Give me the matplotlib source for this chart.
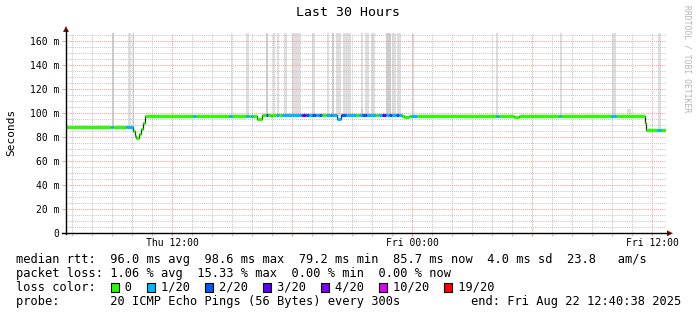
import matplotlib
matplotlib.use("Agg")
import matplotlib.pyplot as plt
from matplotlib.patches import Rectangle, Polygon
from matplotlib.lines import Line2D
from datetime import datetime, timedelta

plt.rcParams['font.family'] = 'DejaVu Sans Mono'

# graph covers 30 hours ending Fri Aug 22 12:40:38 2025
end = datetime(2025, 8, 22, 12, 40, 38)
span_hours = 30
start = end - timedelta(hours=span_hours)

# median rtt, piecewise: start hour of each piece, value in ms, lost pings of 20
seg_start = [0.00, 2.24, 2.37, 3.02, 3.37, 3.43, 3.50, 3.63, 3.73, 3.87,
             3.97, 6.37, 6.52, 8.15, 8.28, 8.98, 9.15, 9.23, 9.35, 9.57,
             9.78, 9.98, 10.12, 10.23, 10.32, 10.48, 10.65, 10.78, 11.73, 11.82,
             11.98, 12.15, 12.32, 12.48, 12.65, 12.82, 12.98, 13.23, 13.32, 13.57,
             13.73, 13.98, 14.48, 14.65, 14.82, 15.07, 15.48, 15.65, 15.82, 15.98,
             16.15, 16.32, 16.48, 16.65, 16.82, 16.88, 17.15, 17.23, 17.53, 21.48,
             21.65, 22.38, 22.63, 24.63, 24.77, 27.23, 27.52, 28.95, 29.02, 29.57,
             29.73]
seg_median = [88.3, 88.3, 88.3, 88.3, 85.5, 81.5, 79.5, 83.0, 87.0, 92.0,
              97.8, 97.8, 97.8, 97.8, 97.8, 97.8, 97.8, 97.8, 97.8, 95.5,
              98.7, 98.7, 98.7, 97.8, 98.7, 98.7, 98.7, 98.7, 98.7, 98.7,
              98.7, 98.7, 98.7, 98.7, 98.7, 98.7, 98.7, 98.7, 98.7, 95.5,
              98.7, 98.7, 98.7, 98.7, 98.7, 98.7, 98.7, 98.7, 98.7, 98.7,
              98.7, 98.7, 98.7, 98.7, 98.0, 97.0, 97.8, 97.8, 97.8, 97.8,
              97.8, 97.2, 97.8, 97.8, 97.8, 97.8, 97.8, 91.7, 86.0, 86.0,
              86.0]
seg_loss = [0, 1, 0, 1, 0, 0, 0, 0, 0, 0,
            0, 1, 0, 1, 0, 1, 0, 1, 0, 0,
            0, 2, 0, 0, 0, 1, 0, 1, 2, 3,
            2, 1, 2, 1, 2, 0, 1, 2, 1, 1,
            2, 1, 0, 1, 2, 1, 0, 1, 3, 1,
            2, 1, 2, 1, 0, 0, 0, 1, 0, 1,
            0, 0, 0, 1, 0, 1, 0, 0, 0, 1,
            0]

# smoke (ping spread) columns
smoke_t0 = [2.31, 3.12, 3.34, 8.24, 9.02, 10.02, 10.37, 10.54, 10.89, 11.31,
            12.32, 13.04, 13.29, 13.52, 13.87, 14.76, 14.76, 14.96, 15.26, 15.99,
            16.32, 16.54, 17.30, 21.49, 24.70, 27.29, 28.04, 29.60]
smoke_t1 = [2.40, 3.27, 3.40, 8.32, 9.15, 10.12, 10.45, 10.65, 11.03, 11.74,
            12.46, 13.15, 13.40, 13.75, 14.24, 14.87, 14.87, 15.15, 15.45, 16.24,
            16.49, 16.74, 17.41, 21.60, 24.78, 27.49, 28.24, 29.74]
smoke_lo = [88, 88, 86, 97, 97, 98, 98, 98, 98, 98,
            98, 98, 98, 98, 98, 98, 98, 98, 98, 98,
            98, 98, 97, 97, 97, 97, 97, 86]
smoke_hi = [170, 170, 170, 170, 170, 170, 170, 170, 170, 170,
            170, 170, 170, 170, 170, 170, 104, 170, 170, 170,
            170, 170, 170, 170, 170, 170, 104, 170]
smoke_dark = [1, 0, 1, 0, 0, 1, 0, 0, 0, 0,
              0, 0, 1, 0, 0, 0, 1, 0, 0, 1,
              0, 0, 0, 0, 0, 0, 0, 0]

loss_levels = [0, 1, 2, 3, 4, 10, 19]
loss_colors = ['#26ff00', '#00b8ff', '#0059ff', '#5e00ff', '#7e00ff', '#dd00ff', '#ff0000']
loss_labels = ['0', '1/20', '2/20', '3/20', '4/20', '10/20', '19/20']

rtt_line = "median rtt:  96.0 ms avg  98.6 ms max  79.2 ms min  85.7 ms now  4.0 ms sd  23.8   am/s"
loss_line = "packet loss: 1.06 % avg  15.33 % max  0.00 % min  0.00 % now"
probe_line = "probe:       20 ICMP Echo Pings (56 Bytes) every 300s"
end_line = "end: " + end.strftime("%a %b %d %H:%M:%S %Y")
title = "Last 30 Hours"

W, H = 697, 315


def fx(x):
    return x / W


def fy(y):
    return 1 - y / H


def loss_color(n):
    c = loss_colors[0]
    for lvl, col in zip(loss_levels, loss_colors):
        if n >= lvl:
            c = col
    return c


fig = plt.figure(figsize=(W / 100, H / 100), dpi=100)
fig.patch.set_facecolor('white')
ax = fig.add_axes([fx(66), fy(233.3), fx(600), 200 / H])
ax.set_xlim(0, span_hours)
ax.set_ylim(0, 166.7)

# smoke
for t0, t1, lo, hi, dk in zip(smoke_t0, smoke_t1, smoke_lo, smoke_hi, smoke_dark):
    ax.bar(t0, hi - lo, width=t1 - t0, bottom=lo, align='edge',
           color='#cdcdcd' if dk else '#dedede', linewidth=0, zorder=1)

# median
seg_end = seg_start[1:] + [span_hours]
ax.stairs(seg_median, seg_start + [span_hours], baseline=None, color='#202020', lw=0.9, zorder=3)
ax.hlines(seg_median, seg_start, seg_end, colors=[loss_color(n) for n in seg_loss],
          lw=2.3, zorder=4)

# grid / ticks
hours = []
h = start.replace(minute=0, second=0) + timedelta(hours=1)
while h <= end:
    hours.append(h)
    h += timedelta(hours=1)
off = [(t - start).total_seconds() / 3600 for t in hours]
major = [o for o, t in zip(off, hours) if t.hour % 6 == 0]
major_lbl = [t.strftime('%a %H:%M') if t.hour % 12 == 0 else '' for t in hours if t.hour % 6 == 0]
ax.set_xticks(major)
ax.set_xticklabels(major_lbl)
ax.set_xticks(off, minor=True)
ax.set_yticks(range(0, 161, 20))
ax.set_yticklabels(['0'] + ['%d m' % v for v in range(20, 161, 20)])
ax.set_yticks(range(0, 166, 5), minor=True)

dots = (0, (1, 1))
ax.grid(which='major', color='#f2a0a0', linestyle=dots, lw=0.75)
ax.grid(which='minor', color='#c8c8c8', linestyle=dots, lw=0.75)
ax.set_axisbelow(False)

ax.tick_params(which='both', labelsize=7, color='#f2a0a0', width=0.75)
ax.tick_params(axis='y', which='major', length=3, pad=2)
ax.tick_params(axis='y', which='minor', length=0)
ax.tick_params(axis='x', which='major', length=2.2, pad=1.5)
ax.tick_params(axis='x', which='minor', length=2, color='#c8c8c8')

for s in ['top', 'right', 'left', 'bottom']:
    ax.spines[s].set_visible(False)

# axes with arrows
fig.add_artist(Line2D([fx(66), fx(66)], [fy(233.8), fy(30)], color='black', lw=1))
fig.add_artist(Line2D([fx(62), fx(668)], [fy(233.3), fy(233.3)], color='black', lw=1))
fig.add_artist(Polygon([(fx(63), fy(32)), (fx(69), fy(32)), (fx(66), fy(26))],
                       closed=True, color='#7f1010', lw=0))
fig.add_artist(Polygon([(fx(667), fy(230.3)), (fx(667), fy(236.3)), (fx(673), fy(233.3))],
                       closed=True, color='#7f1010', lw=0))

# texts
fig.text(fx(348), fy(13), title, ha='center', va='center', fontsize=9.5)
fig.text(fx(11), fy(132), 'Seconds', rotation=90, ha='center', va='center', fontsize=8)
fig.text(fx(687), fy(59), 'RRDTOOL / TOBI OETIKER', rotation=270, ha='center', va='center',
         fontsize=5.8, color='#b4b4b4')

cw = 7.25
fs = 8.65
x0 = 16
fig.text(fx(x0), fy(259.3), rtt_line, ha='left', va='center', fontsize=fs)
fig.text(fx(x0), fy(273.3), loss_line, ha='left', va='center', fontsize=fs)

legend = "loss color:  "
box_cols = []
for lbl in loss_labels:
    box_cols.append(len(legend))
    legend += "  " + lbl + "  "
fig.text(fx(x0), fy(287), legend.rstrip(), ha='left', va='center', fontsize=fs)
for col, c in zip(box_cols, loss_colors):
    fig.add_artist(Rectangle((fx(x0 + col * cw + 0.5), fy(291.5)), fx(8), 9 / H,
                             facecolor=c, edgecolor='black', lw=0.8))

fig.text(fx(x0), fy(301), probe_line, ha='left', va='center', fontsize=fs)
fig.text(fx(681), fy(301), end_line, ha='right', va='center', fontsize=fs)

fig.savefig('out.png', dpi=100, facecolor='white')
